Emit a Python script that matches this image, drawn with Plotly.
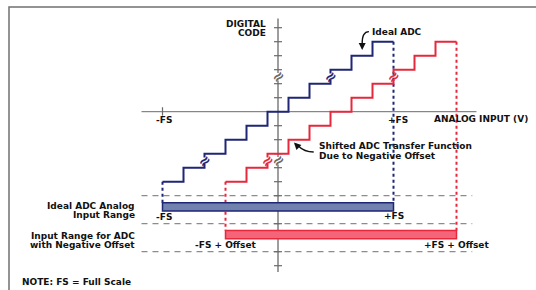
import plotly.graph_objects as go

# ---------------- data ----------------
codes = [-5, -4, -3, -2, -1, 0, 1, 2, 3, 4, 5]
ideal_edges = [-5.5, -4.5, -3.5, -2.5, -1.5, -0.5, 0.5, 1.5, 2.5, 3.5, 4.5, 5.5]
shifted_edges = [-2.5, -1.5, -0.5, 0.5, 1.5, 2.5, 3.5, 4.5, 5.5, 6.5, 7.5, 8.5]
FS = 5.5
OFFSET = 3.0
break_codes = [-4, 2]
axis_tick_codes = [-11, -10, -9, -8, -7, -6, -5, -4, -3, -2, -1, 1, 2, 3, 4, 5, 6]

# ---------------- layout constants ----------------
NAVY = "#1f2676"
RED = "#e5283c"
GRAY = "#6a6a6a"
DASH = "#8c8c8c"
FONT = "DejaVu Sans"
FS_SIZE = 9.0
ROW_IDEAL = -6.8
ROW_SHIFT = -8.78
BAR_H = 0.3
SEP_ROWS = [-6.0, -8.0, -10.0]
X_LO, X_HI = -6.5, 9.45
C_LO, C_HI = -11.45, 6.65
GAP = 0.27

fig = go.Figure()


def stair(edges):
    xs, ys = [edges[0]], [codes[0]]
    for i, c in enumerate(codes):
        xr = edges[i + 1]
        xs.append(xr); ys.append(c)
        if i + 1 < len(codes):
            nc = codes[i + 1]
            if c in break_codes:
                xs += [xr, None, xr]; ys += [c + GAP, None, nc - GAP]
            xs.append(xr); ys.append(nc)
    return xs, ys


# separator dashed lines
for r in SEP_ROWS:
    fig.add_trace(go.Scatter(x=[X_LO, X_HI - 0.2], y=[r, r], mode="lines",
                             line=dict(color=DASH, width=1.3, dash="6px,5px"),
                             hoverinfo="skip"))

# horizontal axis
fig.add_trace(go.Scatter(x=[X_LO, X_HI], y=[0, 0], mode="lines",
                         line=dict(color=GRAY, width=1), hoverinfo="skip"))
# vertical axis with breaks
vy = [C_LO] + sum([[b + 0.5 - GAP, None, b + 0.5 + GAP] for b in break_codes], []) + [C_HI]
vx = [0 if v is not None else None for v in vy]
fig.add_trace(go.Scatter(x=vx, y=vy, mode="lines",
                         line=dict(color=GRAY, width=1.3), hoverinfo="skip"))
# ticks on vertical axis
tx, ty = [], []
for t in axis_tick_codes:
    tx += [-0.19, 0.19, None]; ty += [t, t, None]
# -FS tick on horizontal axis
tx += [-FS, -FS, None]; ty += [-0.28, 0.32, None]
fig.add_trace(go.Scatter(x=tx, y=ty, mode="lines",
                         line=dict(color=GRAY, width=1.2), hoverinfo="skip"))

# dotted range lines
for xv, top, bot, col in [(-FS, codes[0], ROW_IDEAL + BAR_H, NAVY),
                          (FS, codes[-1], ROW_IDEAL + BAR_H, NAVY),
                          (-FS + OFFSET, codes[0], ROW_SHIFT + BAR_H, RED),
                          (FS + OFFSET, codes[-1], ROW_SHIFT + BAR_H, RED)]:
    fig.add_trace(go.Scatter(x=[xv, xv], y=[top, bot], mode="lines",
                             line=dict(color=col, width=2, dash="dot"),
                             hoverinfo="skip"))

# staircases
for edges, col in [(ideal_edges, NAVY), (shifted_edges, RED)]:
    xs, ys = stair(edges)
    fig.add_trace(go.Scatter(x=xs, y=ys, mode="lines",
                             line=dict(color=col, width=2), hoverinfo="skip"))

# range bars
fig.add_shape(type="rect", x0=-FS, x1=FS, y0=ROW_IDEAL - BAR_H, y1=ROW_IDEAL + BAR_H,
              fillcolor="#7082ad", line=dict(color=NAVY, width=1.5), layer="above")
fig.add_shape(type="rect", x0=-FS + OFFSET, x1=FS + OFFSET, y0=ROW_SHIFT - BAR_H,
              y1=ROW_SHIFT + BAR_H, fillcolor="#f4657a", line=dict(color=RED, width=1.5),
              layer="above")

# break squiggles
for b in break_codes:
    for xv, col in [(ideal_edges[codes.index(b) + 1], NAVY),
                    (shifted_edges[codes.index(b) + 1], RED),
                    (0, GRAY)]:
        fig.add_annotation(x=xv, y=b + 0.5, text="<b>≈</b>", showarrow=False,
                           textangle=-40, font=dict(family=FONT, size=15, color=col))


def label(x, y, text, anchor="center", size=FS_SIZE):
    fig.add_annotation(x=x, y=y, text=text, showarrow=False, xanchor=anchor,
                       yanchor="middle", font=dict(family=FONT, size=size, color="#111"))


label(-0.5, 6.3, "<b>DIGITAL</b>", "right")
label(-0.5, 5.62, "<b>CODE</b>", "right")
label(4.4, 5.69, "<b>Ideal ADC</b>", "left")
label(-FS + 0.05, -0.62, "<b>-FS</b>")
label(FS + 0.2, -0.62, "<b>+FS</b>")
label(12.0, -0.55, "<b>ANALOG INPUT (V)</b>", "right")
label(1.85, -2.45, "<b>Shifted ADC Transfer Function</b>", "left")
label(1.85, -3.13, "<b>Due to Negative Offset</b>", "left")
label(-6.7, -6.7, "<b>Ideal ADC Analog</b>", "right")
label(-6.7, -7.38, "<b>Input Range</b>", "right")
label(-FS + 0.05, -7.52, "<b>-FS</b>")
label(FS, -7.47, "<b>+FS</b>")
label(-6.7, -8.9, "<b>Input Range for ADC</b>", "right")
label(-6.7, -9.55, "<b>with Negative Offset</b>", "right")
label(-FS + OFFSET, -9.55, "<b>-FS + Offset</b>")
label(FS + OFFSET, -9.55, "<b>+FS + Offset</b>")
label(-12.3, -12.13, "<b>NOTE: FS = Full Scale</b>", "left")

# curved leader arrows
fig.add_shape(type="path", path="M 4.33,5.72 Q 4.0,5.72 4.01,4.85",
              line=dict(color="#111", width=1.4))
fig.add_annotation(x=4.01, y=4.4, ax=0, ay=-6, text="", showarrow=True,
                   arrowhead=2, arrowsize=1, arrowwidth=1.4, arrowcolor="#111")
fig.add_shape(type="path", path="M 1.7,-2.88 Q 1.25,-2.88 0.97,-2.45",
              line=dict(color="#111", width=1.4))
fig.add_annotation(x=0.76, y=-2.2, ax=5, ay=5, text="", showarrow=True,
                   arrowhead=2, arrowsize=1, arrowwidth=1.4, arrowcolor="#111")

# outer frame
fig.add_shape(type="rect", xref="paper", yref="paper", x0=9 / 536, x1=1.02,
              y0=-0.05, y1=1 - 7 / 290, line=dict(color="#707070", width=1.5))

fig.update_layout(
    width=536, height=290, margin=dict(l=0, r=0, t=0, b=0),
    paper_bgcolor="white", plot_bgcolor="white", showlegend=False,
    xaxis=dict(range=[-278 / 21, (536 - 278) / 21], visible=False, fixedrange=True),
    yaxis=dict(range=[(111.7 - 290) / 14, 111.7 / 14], visible=False, fixedrange=True),
)

fig.write_html("out.html", config={"displayModeBar": False},
               post_script="document.body.style.margin='0';")
